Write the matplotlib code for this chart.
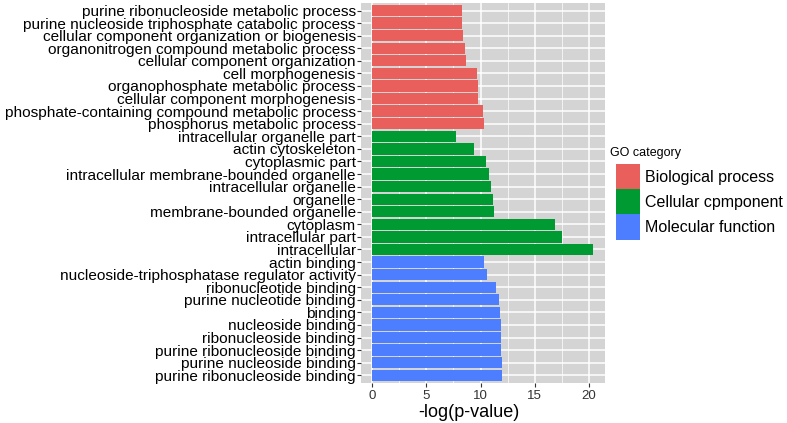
import matplotlib
matplotlib.use("Agg")
import matplotlib.pyplot as plt
from matplotlib.patches import Patch
from matplotlib.ticker import MultipleLocator

plt.rcParams["font.family"] = ["Liberation Sans", "DejaVu Sans"]

# ── Data (top to bottom as in the chart) ─────────────────────────────

bp_terms = [
    "purine ribonucleoside metabolic process",
    "purine nucleoside triphosphate catabolic process",
    "cellular component organization or biogenesis",
    "organonitrogen compound metabolic process",
    "cellular component organization",
    "cell morphogenesis",
    "organophosphate metabolic process",
    "cellular component morphogenesis",
    "phosphate-containing compound metabolic process",
    "phosphorus metabolic process",
]
bp_values = [8.27, 8.27, 8.36, 8.55, 8.64, 9.72, 9.75, 9.81, 10.24, 10.36]

cc_terms = [
    "intracellular organelle part",
    "actin cytoskeleton",
    "cytoplasmic part",
    "intracellular membrane-bounded organelle",
    "intracellular organelle",
    "organelle",
    "membrane-bounded organelle",
    "cytoplasm",
    "intracellular part",
    "intracellular",
]
cc_values = [7.74, 9.38, 10.55, 10.8, 10.98, 11.17, 11.23, 16.9, 17.5, 20.43]

mf_terms = [
    "actin binding",
    "nucleoside-triphosphatase regulator activity",
    "ribonucleotide binding",
    "purine nucleotide binding",
    "binding",
    "nucleoside binding",
    "ribonucleoside binding",
    "purine ribonucleoside binding",
    "purine nucleoside binding",
    "purine ribonucleoside binding",
]
mf_values = [10.36, 10.6, 11.42, 11.73, 11.79, 11.85, 11.91, 11.91, 11.97, 11.97]

categories = ["Biological process", "Cellular cpmponent", "Molecular function"]
colors = ["#E95F5C", "#009A33", "#4D7EFF"]

# ── Plot ─────────────────────────────────────────────────────────────

terms = bp_terms + cc_terms + mf_terms
values = bp_values + cc_values + mf_values
bar_colors = ([colors[0]] * len(bp_terms) + [colors[1]] * len(cc_terms)
              + [colors[2]] * len(mf_terms))
n = len(terms)
ypos = [n - 1 - i for i in range(n)]

fig = plt.figure(figsize=(7.87, 4.23), dpi=100)
ax = fig.add_axes([0.459, 0.095, 0.31, 0.898])
ax.set_facecolor("#D4D4D4")

ax.barh(ypos, values, height=0.9, color=bar_colors, zorder=3)

ax.set_xlim(-1.025, 21.525)
ax.set_ylim(-0.6, n - 0.4)
ax.xaxis.set_major_locator(MultipleLocator(5))
ax.xaxis.set_minor_locator(MultipleLocator(2.5))
ax.grid(which="major", color="white", linewidth=1.1, zorder=0)
ax.grid(which="minor", axis="x", color="white", linewidth=0.5, zorder=0)

ax.set_yticks(ypos)
ax.set_yticklabels(terms, fontsize=11.1, color="black")
ax.tick_params(axis="y", length=3, width=0.8, color="#333333", pad=1)
ax.tick_params(axis="x", which="major", length=3, width=0.8, color="#333333",
               labelsize=9.5, labelcolor="#333333", pad=2)
ax.tick_params(axis="x", which="minor", length=0)
ax.set_xlabel("-log(p-value)", fontsize=13)
ax.xaxis.set_label_coords(0.44, -0.056)

for s in ax.spines.values():
    s.set_visible(False)

# legend: title drawn separately so the keys sit a little indented
fig.text(610 / 787, 1 - 153 / 423, "GO category", fontsize=9, va="center", ha="left")
handles = [Patch(facecolor=c, edgecolor="none") for c in colors]
fig.legend(handles, categories,
           loc="upper left", bbox_to_anchor=(616 / 787, 1 - 164 / 423),
           frameon=False, fontsize=11.5,
           handlelength=1.5, handleheight=2.05, handletextpad=0.3,
           labelspacing=0.0, borderaxespad=0, borderpad=0)

fig.savefig("out.png", dpi=100)
